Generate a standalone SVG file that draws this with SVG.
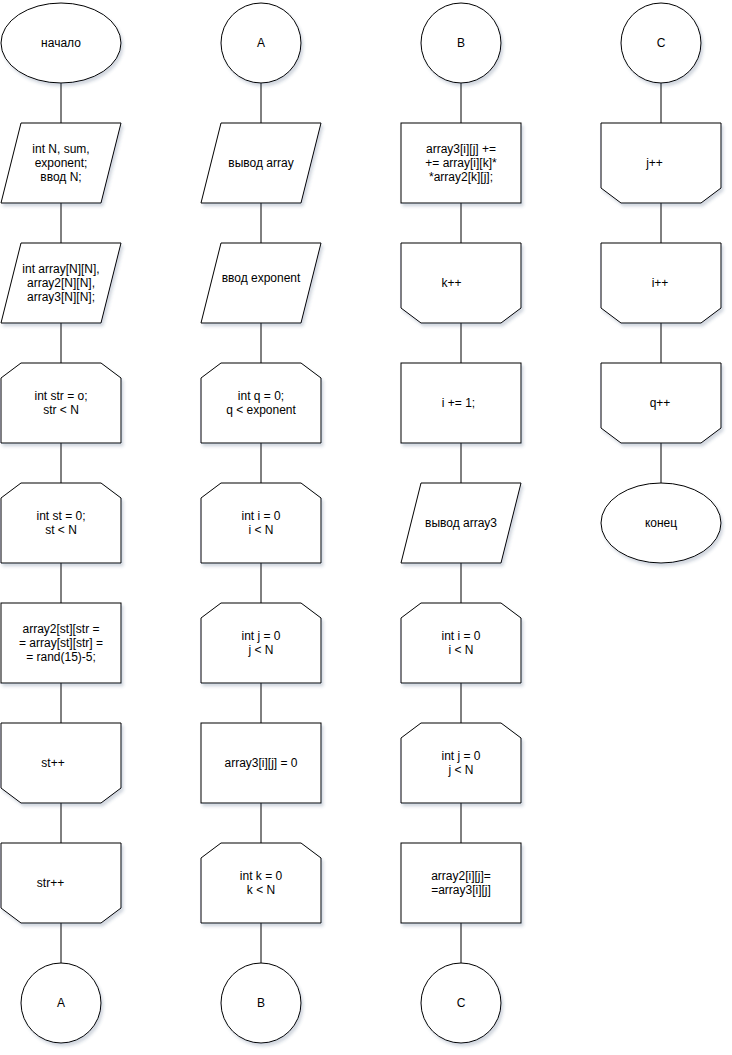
<svg xmlns="http://www.w3.org/2000/svg" width="732" height="1055" viewBox="0 0 732 1055">
<style>
.s{fill:#fff;stroke:#000;stroke-width:1;filter:url(#sh)}
.c{fill:none;stroke:#000;stroke-width:1}
text{font-family:"Liberation Sans",Arial,sans-serif;font-size:12px;fill:#000;text-anchor:middle;dominant-baseline:central}
</style>
<defs>
<filter id="sh" x="-10%" y="-10%" width="130%" height="130%">
<feDropShadow dx="2" dy="3" stdDeviation="1.5" flood-color="#3a4a70" flood-opacity="0.22"/>
</filter>
</defs>
<rect width="732" height="1055" fill="#fff"/>
<g id="connectors">
<path class="c" d="M61 83V123M61 203V243M61 323V363M61 443V483M61 563V603M61 683V723M61 803V843M61 923V963"/>
<path class="c" d="M261 83V123M261 203V243M261 323V363M261 443V483M261 563V603M261 683V723M261 803V843M261 923V963"/>
<path class="c" d="M461 83V123M461 203V243M461 323V363M461 443V483M461 563V603M461 683V723M461 803V843M461 923V963"/>
<path class="c" d="M661 83V123M661 203V243M661 323V363M661 443V483"/>
</g>
<!-- column 1 -->
<g id="n_start"><ellipse class="s" cx="61" cy="43" rx="60" ry="40"/><text x="61" y="43">начало</text></g>
<g id="n_decl1"><path class="s" d="M21 123H121L101 203H1Z"/><text x="61" y="148.6">int N, sum,</text><text x="61" y="163">exponent;</text><text x="61" y="177.4">ввод N;</text></g>
<g id="n_decl2"><path class="s" d="M21 243H121L101 323H1Z"/><text x="61" y="268.6">int array[N][N],</text><text x="61" y="283">array2[N][N],</text><text x="61" y="297.4">array3[N][N];</text></g>
<g id="n_str"><path class="s" d="M21 363H101L121 378V443H1V378Z"/><text x="61" y="395.8">int str = o;</text><text x="61" y="410.2">str &lt; N</text></g>
<g id="n_st"><path class="s" d="M21 483H101L121 498V563H1V498Z"/><text x="61" y="515.8">int st = 0;</text><text x="61" y="530.2">st &lt; N</text></g>
<g id="n_rand"><rect class="s" x="1" y="603" width="120" height="80"/><text x="61" y="628.6">array2[st][str =</text><text x="61" y="643">= array[st][str] =</text><text x="61" y="657.4">= rand(15)-5;</text></g>
<g id="n_stpp"><path class="s" d="M1 723H121V788L101 803H21L1 788Z"/><text x="53" y="763">st++</text></g>
<g id="n_strpp"><path class="s" d="M1 843H121V908L101 923H21L1 908Z"/><text x="50.5" y="883">str++</text></g>
<g id="n_A1"><circle class="s" cx="61" cy="1003" r="40"/><text x="61" y="1003">A</text></g>
<!-- column 2 -->
<g id="n_A2"><circle class="s" cx="261" cy="43" r="40"/><text x="261" y="43">A</text></g>
<g id="n_out1"><path class="s" d="M221 123H321L301 203H201Z"/><text x="261" y="163">вывод array</text></g>
<g id="n_inexp"><path class="s" d="M221 243H321L301 323H201Z"/><text x="261" y="278">ввод exponent</text></g>
<g id="n_q"><path class="s" d="M221 363H301L321 378V443H201V378Z"/><text x="261" y="395.8">int q = 0;</text><text x="261" y="410.2">q &lt; exponent</text></g>
<g id="n_i1"><path class="s" d="M221 483H301L321 498V563H201V498Z"/><text x="261" y="515.8">int i = 0</text><text x="261" y="530.2">i &lt; N</text></g>
<g id="n_j1"><path class="s" d="M221 603H301L321 618V683H201V618Z"/><text x="261" y="635.8">int j = 0</text><text x="261" y="650.2">j &lt; N</text></g>
<g id="n_zero"><rect class="s" x="201" y="723" width="120" height="80"/><text x="261" y="763">array3[i][j] = 0</text></g>
<g id="n_k"><path class="s" d="M221 843H301L321 858V923H201V858Z"/><text x="261" y="875.8">int k = 0</text><text x="261" y="890.2">k &lt; N</text></g>
<g id="n_B1"><circle class="s" cx="261" cy="1003" r="40"/><text x="261" y="1003">B</text></g>
<!-- column 3 -->
<g id="n_B2"><circle class="s" cx="461" cy="43" r="40"/><text x="461" y="43">B</text></g>
<g id="n_mul"><rect class="s" x="401" y="123" width="120" height="80"/><text x="461" y="148.6">array3[i][j] +=</text><text x="461" y="163">+= array[i][k]*</text><text x="461" y="177.4">*array2[k][j];</text></g>
<g id="n_kpp"><path class="s" d="M401 243H521V308L501 323H421L401 308Z"/><text x="451.5" y="283">k++</text></g>
<g id="n_iinc"><rect class="s" x="401" y="363" width="120" height="80"/><text x="458.5" y="403">i += 1;</text></g>
<g id="n_out3"><path class="s" d="M421 483H521L501 563H401Z"/><text x="461" y="523">вывод array3</text></g>
<g id="n_i2"><path class="s" d="M421 603H501L521 618V683H401V618Z"/><text x="461" y="635.8">int i = 0</text><text x="461" y="650.2">i &lt; N</text></g>
<g id="n_j2"><path class="s" d="M421 723H501L521 738V803H401V738Z"/><text x="461" y="755.8">int j = 0</text><text x="461" y="770.2">j &lt; N</text></g>
<g id="n_copy"><rect class="s" x="401" y="843" width="120" height="80"/><text x="461" y="875.8">array2[i][j]=</text><text x="461" y="890.2">=array3[i][j]</text></g>
<g id="n_C1"><circle class="s" cx="461" cy="1003" r="40"/><text x="461" y="1003">C</text></g>
<!-- column 4 -->
<g id="n_C2"><circle class="s" cx="661" cy="43" r="40"/><text x="661" y="43">C</text></g>
<g id="n_jpp"><path class="s" d="M601 123H721V188L701 203H621L601 188Z"/><text x="654.5" y="163">j++</text></g>
<g id="n_ipp"><path class="s" d="M601 243H721V308L701 323H621L601 308Z"/><text x="660" y="283">i++</text></g>
<g id="n_qpp"><path class="s" d="M601 363H721V428L701 443H621L601 428Z"/><text x="660" y="403">q++</text></g>
<g id="n_end"><ellipse class="s" cx="661" cy="523" rx="60" ry="40"/><text x="661" y="523">конец</text></g>
</svg>
